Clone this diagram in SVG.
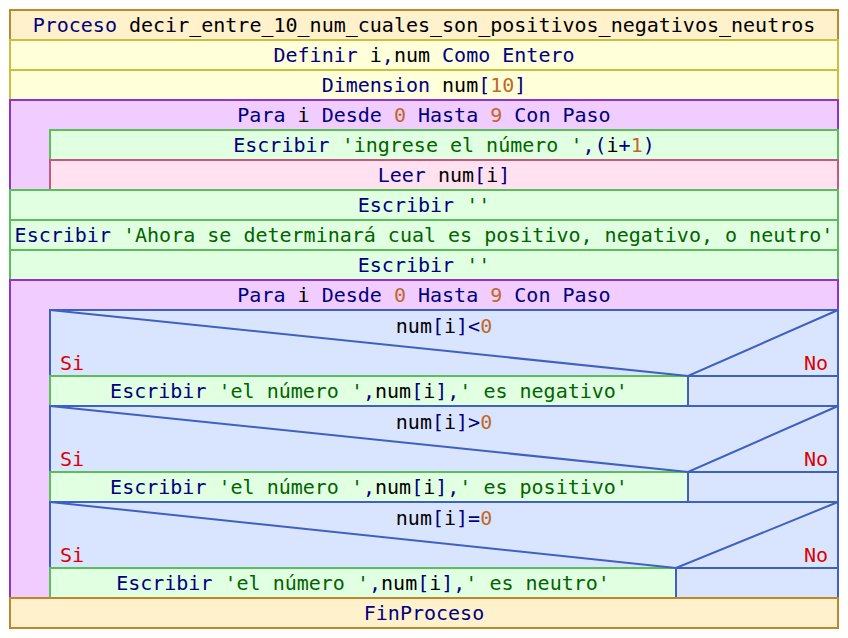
<svg xmlns="http://www.w3.org/2000/svg" width="848" height="638" viewBox="0 0 848 638">
<style>
text{font-family:"DejaVu Sans Mono","Liberation Mono",monospace;font-size:20px;fill:#000080;text-anchor:middle}
.id{fill:#000000}
.s{fill:#006400}
.n{fill:#c0682a}
.r{fill:#dd0000}
.proc{fill:#fff1cc;stroke:#c0862c;stroke-width:2}
.def{fill:#ffffd9;stroke:#c8c040;stroke-width:2}
.para{fill:#f0ccff;stroke:#9033cc;stroke-width:2}
.esc{fill:#e1ffe1;stroke:#5cbd5c;stroke-width:2}
.leer{fill:#ffe1f0;stroke:#c05a80;stroke-width:2}
.cond{fill:#d9e5ff;stroke:#4060c0;stroke-width:2}
.diag{fill:none;stroke:#4060c0;stroke-width:2}
</style>
<rect width="848" height="638" fill="#ffffff"/>
<g id="proceso">
<rect class="proc" x="10" y="10" width="828" height="30"/>
<text x="424" y="31.5">Proceso <tspan class="id">decir_entre_10_num_cuales_son_positivos_negativos_neutros</tspan></text>
</g>
<g id="definir">
<rect class="def" x="10" y="40" width="828" height="30"/>
<text x="424" y="61.5">Definir <tspan class="id">i</tspan>,<tspan class="id">num</tspan> Como Entero</text>
</g>
<g id="dimension">
<rect class="def" x="10" y="70" width="828" height="30"/>
<text x="424" y="91.5">Dimension <tspan class="id">num</tspan>[<tspan class="n">10</tspan>]</text>
</g>
<g id="para1">
<rect class="para" x="10" y="100" width="828" height="90"/>
<text x="424" y="121.5">Para <tspan class="id">i</tspan> Desde <tspan class="n">0</tspan> Hasta <tspan class="n">9</tspan> Con Paso</text>
</g>
<g id="escribir1">
<rect class="esc" x="50" y="130" width="788" height="30"/>
<text x="444" y="151.5">Escribir <tspan class="s">'ingrese el número '</tspan>,(<tspan class="id">i</tspan>+<tspan class="n">1</tspan>)</text>
</g>
<g id="leer1">
<rect class="leer" x="50" y="160" width="788" height="30"/>
<text x="444" y="181.5">Leer <tspan class="id">num</tspan>[<tspan class="id">i</tspan>]</text>
</g>
<g id="escribir2">
<rect class="esc" x="10" y="190" width="828" height="30"/>
<text x="424" y="211.5">Escribir <tspan class="s">''</tspan></text>
</g>
<g id="escribir3">
<rect class="esc" x="10" y="220" width="828" height="30"/>
<text x="424" y="241.5">Escribir <tspan class="s">'Ahora se determinará cual es positivo, negativo, o neutro'</tspan></text>
</g>
<g id="escribir4">
<rect class="esc" x="10" y="250" width="828" height="30"/>
<text x="424" y="271.5">Escribir <tspan class="s">''</tspan></text>
</g>
<g id="para2">
<rect class="para" x="10" y="280" width="828" height="318"/>
<text x="424" y="301.5">Para <tspan class="id">i</tspan> Desde <tspan class="n">0</tspan> Hasta <tspan class="n">9</tspan> Con Paso</text>
</g>
<g id="si1">
<rect class="cond" x="50" y="310" width="788" height="96"/>
<text x="444" y="332.5"><tspan class="id">num</tspan>[<tspan class="id">i</tspan>]&lt;<tspan class="n">0</tspan></text>
<text class="r" x="60" y="370" style="text-anchor:start">Si</text>
<text class="r" x="828" y="370" style="text-anchor:end">No</text>
<rect class="esc" x="50" y="376" width="638" height="30"/>
<rect class="cond" x="688" y="376" width="150" height="30"/>
<text x="369" y="397.5">Escribir <tspan class="s">'el número '</tspan>,<tspan class="id">num</tspan>[<tspan class="id">i</tspan>],<tspan class="s">' es negativo'</tspan></text>
</g>
<g id="si2">
<rect class="cond" x="50" y="406" width="788" height="96"/>
<text x="444" y="428.5"><tspan class="id">num</tspan>[<tspan class="id">i</tspan>]&gt;<tspan class="n">0</tspan></text>
<text class="r" x="60" y="466" style="text-anchor:start">Si</text>
<text class="r" x="828" y="466" style="text-anchor:end">No</text>
<rect class="esc" x="50" y="472" width="638" height="30"/>
<rect class="cond" x="688" y="472" width="150" height="30"/>
<text x="369" y="493.5">Escribir <tspan class="s">'el número '</tspan>,<tspan class="id">num</tspan>[<tspan class="id">i</tspan>],<tspan class="s">' es positivo'</tspan></text>
</g>
<g id="si3">
<rect class="cond" x="50" y="502" width="788" height="96"/>
<text x="444" y="524.5"><tspan class="id">num</tspan>[<tspan class="id">i</tspan>]=<tspan class="n">0</tspan></text>
<text class="r" x="60" y="562" style="text-anchor:start">Si</text>
<text class="r" x="828" y="562" style="text-anchor:end">No</text>
<rect class="esc" x="50" y="568" width="626" height="30"/>
<rect class="cond" x="676" y="568" width="162" height="30"/>
<text x="363" y="589.5">Escribir <tspan class="s">'el número '</tspan>,<tspan class="id">num</tspan>[<tspan class="id">i</tspan>],<tspan class="s">' es neutro'</tspan></text>
</g>
<g id="connectors">
<polyline class="diag" points="50,310 688,376 838,310"/>
<polyline class="diag" points="50,406 688,472 838,406"/>
<polyline class="diag" points="50,502 676,568 838,502"/>
</g>
<g id="finproceso">
<rect class="proc" x="10" y="598" width="828" height="30"/>
<text x="424" y="619.5">FinProceso</text>
</g>
</svg>
